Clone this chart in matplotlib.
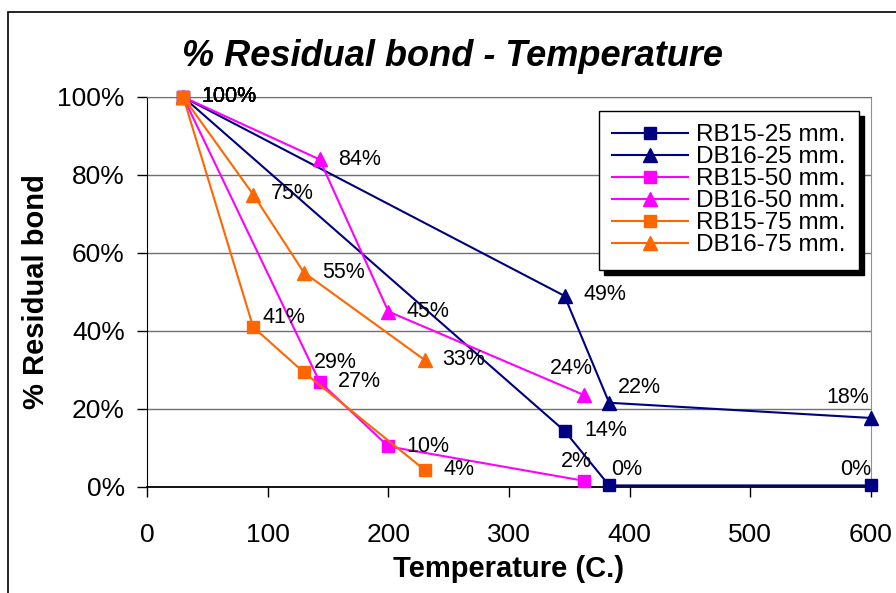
import matplotlib
matplotlib.use('Agg')
import matplotlib.pyplot as plt
from matplotlib.patches import Rectangle
from matplotlib.ticker import FuncFormatter

plt.rcParams['font.family'] = ['Liberation Sans', 'DejaVu Sans']

# temperatures (C.) for each bar diameter group
temp_25 = [30, 346, 383, 600]
temp_50 = [30, 143, 200, 362]
temp_75 = [30, 88, 130, 230]

# % residual bond
rb15_25 = [100, 14.4, 0.4, 0.4]
db16_25 = [100, 49, 21.6, 17.7]
rb15_50 = [100, 27, 10.4, 1.6]
db16_50 = [100, 84, 45, 23.6]
rb15_75 = [100, 41, 29.4, 4.4]
db16_75 = [100, 75, 55, 32.6]

names = ['RB15-25 mm.', 'DB16-25 mm.', 'RB15-50 mm.', 'DB16-50 mm.', 'RB15-75 mm.', 'DB16-75 mm.']

navy = '#000080'
pink = '#FF00FF'
orange = '#FF6600'

# series: x, y, colour, marker, label offsets in px (dx, dy up, ha)
R = (18, 0, 'left')
series = [
    (temp_25, rb15_25, navy, 's', [R, (20, 0, 'left'), (2, 16, 'left'), (0, 16, 'right')]),
    (temp_25, db16_25, navy, '^', [R, (19, 1, 'left'), (9, 15, 'left'), (-2, 20, 'right')]),
    (temp_50, rb15_50, pink, 's', [R, (18, 0, 'left'), (18, 0, 'left'), (-7, 19, 'center')]),
    (temp_50, db16_50, pink, '^', [R, (19, 0, 'left'), (18, 0, 'left'), (-12, 26, 'center')]),
    (temp_75, rb15_75, orange, 's', [R, (9, 10, 'left'), (10, 10, 'left'), (19, 0, 'left')]),
    (temp_75, db16_75, orange, '^', [R, (18, 1, 'left'), (18, 0, 'left'), (18, 0, 'left')]),
]

fig = plt.figure(figsize=(8.96, 5.93), dpi=100)
ax = fig.add_axes([147 / 896, 1 - 487 / 593, 724 / 896, 390 / 593])

for (x, y, c, m, offs), name in zip(series, names):
    ms = 8 if m == 's' else 9.5
    ax.plot(x, y, color=c, marker=m, markersize=ms, lw=1.5, label=name, clip_on=False, zorder=3)
    for xi, yi, (dx, dy, ha) in zip(x, y, offs):
        ax.annotate(f'{round(yi):.0f}%', (xi, yi), xytext=(dx * 0.72, dy * 0.72),
                    textcoords='offset points', ha=ha, va='center', fontsize=15.5, zorder=4)

ax.set_xlim(0, 600)
ax.set_ylim(0, 100)
ax.set_xticks(range(0, 601, 100))
ax.set_yticks(range(0, 101, 20))
ax.yaxis.set_major_formatter(FuncFormatter(lambda v, p: f'{v:.0f}%'))
ax.tick_params(direction='out', length=7, width=1, labelsize=19, color='black')
ax.tick_params(axis='y', pad=9)
ax.tick_params(axis='x', pad=19)
ax.grid(axis='y', color='#707070', lw=1)
ax.set_axisbelow(True)
ax.spines['left'].set_color('black')
ax.spines['bottom'].set_color('black')
ax.spines['bottom'].set_linewidth(1.3)
ax.spines['top'].set_color('#707070')
ax.spines['right'].set_color('#909090')

ax.set_xlabel('Temperature (C.)', fontsize=21, fontweight='bold', labelpad=6)
ax.set_ylabel('% Residual bond', fontsize=21, fontweight='bold', labelpad=5)
fig.text(453 / 896, 1 - 57 / 593, '% Residual bond - Temperature', fontsize=26,
         fontweight='bold', style='italic', ha='center', va='center')

leg = ax.legend(loc='upper left', bbox_to_anchor=(599 / 896, 1 - 111 / 593),
                bbox_transform=fig.transFigure, borderaxespad=0, fontsize=17.5,
                fancybox=False, framealpha=1, edgecolor='black', handlelength=3.1,
                handletextpad=0.35, labelspacing=0.0, borderpad=0.55)
leg.get_frame().set_linewidth(1)
leg.set_zorder(6)

# black drop shadow behind the legend
fig.canvas.draw()
bb = leg.get_window_extent()
W, H = fig.bbox.width, fig.bbox.height
ax.add_artist(Rectangle(((bb.x0 + 5) / W, (bb.y0 - 5) / H), bb.width / W, bb.height / H,
                        transform=fig.transFigure, color='black', zorder=5.5, clip_on=False))

# chart area border (cut off on the right and bottom)
fig.add_artist(Rectangle((8 / 896, -0.1), 1.2, 1.1 - 12 / 593, transform=fig.transFigure,
                         fill=False, ec='black', lw=1.2))

fig.savefig('out.png', dpi=100)
